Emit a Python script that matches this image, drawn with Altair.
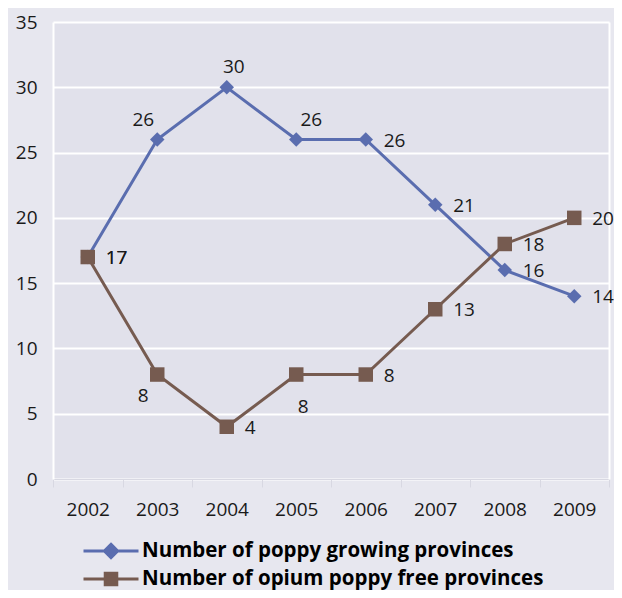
import altair as alt
import pandas as pd

years = ["2002", "2003", "2004", "2005", "2006", "2007", "2008", "2009"]
growing = [17, 26, 30, 26, 26, 21, 16, 14]
free = [17, 8, 4, 8, 8, 13, 18, 20]
S1 = "Number of poppy growing provinces"
S2 = "Number of opium poppy free provinces"

BLUE = "#5a6daf"
BROWN = "#765b50"
FONT = "Open Sans"
TXT = "#1a1a1a"
NUM_SIZE = 19

df = pd.DataFrame({
    "year": years * 2,
    "series": [S1] * len(years) + [S2] * len(years),
    "value": growing + free,
})

x_scale = alt.Scale(type="band", paddingInner=0, paddingOuter=0, domain=years)
y_scale = alt.Scale(domain=[0, 35], nice=False, zero=True)

x_axis = alt.X("year:N", scale=x_scale, title=None, axis=alt.Axis(
    labelAngle=0, labelFont=FONT, labelFontSize=NUM_SIZE, labelColor=TXT,
    domainColor="#d8d8e2", domainWidth=1, tickColor="#d8d8e2", tickSize=8,
    tickBand="extent", labelPadding=13, grid=False))
y_left = alt.Y("value:Q", scale=y_scale, title=None, axis=alt.Axis(
    values=[0, 5, 10, 15, 20, 25, 30, 35], labelFont=FONT, labelFontSize=NUM_SIZE,
    labelColor=TXT, labelPadding=16, ticks=False, domainColor="white",
    domainWidth=2, grid=True, gridColor="white", gridWidth=2))
y_right = alt.Y("value:Q", scale=y_scale, title=None, axis=alt.Axis(
    orient="right", labels=False, ticks=False, grid=False,
    domainColor="white", domainWidth=2))
y_none = alt.Y("value:Q", scale=y_scale, axis=None)

PATH_DIAMOND = "M-1,0H1M0,-0.24L0.24,0L0,0.24L-0.24,0Z"
PATH_SQUARE = "M-1,0H1M-0.21,-0.21H0.21V0.21H-0.21Z"


def legend(path, fill, ly):
    return alt.Legend(
        orient="none", legendX=29, legendY=ly, title=None, padding=0,
        symbolType=path, symbolSize=3025, symbolFillColor=fill,
        symbolStrokeWidth=3, symbolOpacity=1,
        labelFont=FONT, labelFontSize=20.5, labelFontWeight="bold",
        labelColor="#000000", labelOffset=2, labelLimit=600)


base = alt.Chart(df)
blue = base.transform_filter(alt.datum.series == S1)
brown = base.transform_filter(alt.datum.series == S2)

blue_line = blue.mark_line(strokeWidth=3).encode(
    x=x_axis, y=y_left,
    color=alt.Color("series:N", scale=alt.Scale(domain=[S1], range=[BLUE]),
                    legend=legend(PATH_DIAMOND, BLUE, 500)))
blue_pts = blue.mark_point(shape="diamond", filled=True, size=210,
                           color=BLUE, opacity=1).encode(x=x_axis, y=y_right)
brown_line = brown.mark_line(strokeWidth=3).encode(
    x=x_axis, y=y_none,
    color=alt.Color("series:N", scale=alt.Scale(domain=[S2], range=[BROWN]),
                    legend=legend(PATH_SQUARE, BROWN, 528)))
brown_pts = brown.mark_point(shape="square", filled=True, size=210,
                             color=BROWN, opacity=1).encode(x=x_axis, y=y_none)


def labels(series, yrs, dx, dy, align):
    return base.transform_filter(alt.datum.series == series).transform_filter(
        alt.FieldOneOfPredicate(field="year", oneOf=yrs)
    ).mark_text(dx=dx, dy=dy, align=align, baseline="middle", font=FONT,
                fontSize=NUM_SIZE, color=TXT).encode(x=x_axis, y=y_none, text="value:Q")


texts = [
    labels(S1, ["2002", "2006", "2007", "2008", "2009"], 18, 1, "left"),
    labels(S1, ["2003"], -14, -20, "center"),
    labels(S1, ["2004"], 7, -20, "center"),
    labels(S1, ["2005"], 15, -20, "center"),
    labels(S2, ["2002", "2004", "2006", "2007", "2008", "2009"], 18, 1, "left"),
    labels(S2, ["2003"], -14, 21, "center"),
    labels(S2, ["2005"], 7, 32, "center"),
]

chart = alt.layer(blue_line, blue_pts, brown_line, brown_pts, *texts).resolve_scale(
    color="independent").resolve_axis(y="independent").properties(
    width=556, height=457,
    autosize=alt.AutoSizeParams(type="none"),
    padding={"left": 45, "top": 14, "right": 5, "bottom": 111},
    background="#e7e7ef",
).configure_view(fill="#e1e1eb", stroke=None)

chart.save("out.html", embed_options={"renderer": "svg", "actions": False})
